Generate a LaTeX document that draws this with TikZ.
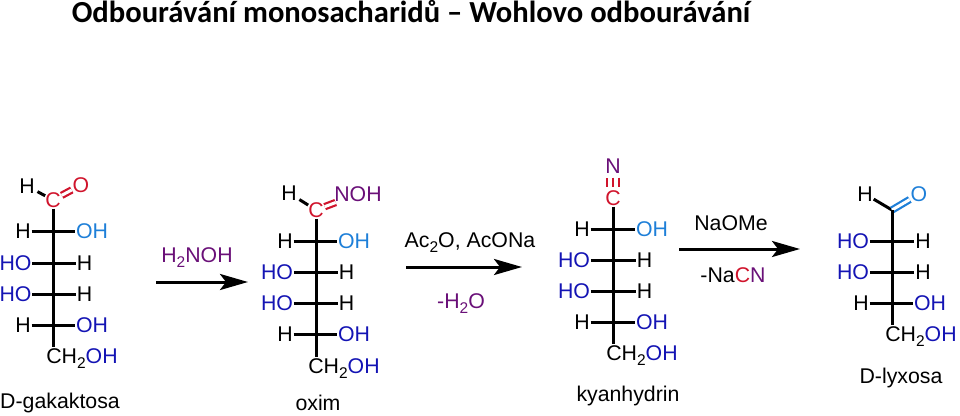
\documentclass[tikz,border=0pt]{standalone}
\usepackage{fontspec}
\setmainfont{Liberation Sans}
\newfontfamily\titlefont{Carlito}
\usetikzlibrary{arrows.meta}
\definecolor{oxblue}{HTML}{1414B4}
\definecolor{ltblue}{HTML}{1E7FD8}
\definecolor{oxred}{HTML}{D0142C}
\definecolor{oxpurple}{HTML}{6A1078}
\newcommand{\subtwo}{\raisebox{-4.5pt}{\fontsize{15.5}{15.5}\selectfont 2}}
\tikzset{
  >={Stealth[length=28pt,width=16pt,inset=6pt]},
  atom/.style={font=\fontsize{21.3}{25}\selectfont,inner sep=1pt,outer sep=0pt,
    text height=15pt,text depth=0pt},
  bond/.style={line width=3pt},
  hbond/.style={line width=3pt,shorten >=-1pt,shorten <=2pt},
  dbond/.style={line width=2.2pt,double,double distance=3pt},
  tbond/.style={line width=2.2pt,double,double distance=9.6pt,shorten >=3pt,shorten <=3pt},
  tmid/.style={line width=2.2pt,shorten >=3pt,shorten <=3pt},
  reaction/.style={line width=3pt,->}
}

\begin{document}
\begin{tikzpicture}[x=1pt,y=-1pt]
  \useasboundingbox (0,0) rectangle (960,415);
  \node[inner sep=0pt] (title) at (411,12)
    {\titlefont\bfseries\fontsize{30.6}{36}\selectfont Odbourávání monosacharidů – Wohlovo odbourávání};

  % D-gakaktosa
  \node[atom] (a0) at (27,186) {H};
  \node[atom,oxred] (aC) at (53,200) {C};
  \node[atom,oxred] (aO) at (81,185) {O};
  \node[atom] (a1l) at (23,231) {H};
  \node[atom,ltblue] (a1r) at (92,231) {OH};
  \node[atom,oxblue] (a2l) at (15.5,263) {HO};
  \node[atom] (a2r) at (84.5,263) {H};
  \node[atom,oxblue] (a3l) at (15.5,294) {HO};
  \node[atom] (a3r) at (84.5,294) {H};
  \node[atom] (a4l) at (23,325) {H};
  \node[atom,oxblue] (a4r) at (92,325) {OH};
  \node[atom] (a5) at (82,356) {CH\subtwo\textcolor{oxblue}{OH}};
  \coordinate (a5e) at (53,347);
  \node[atom] (aname) at (60,401) {D-gakaktosa};
  \draw[hbond] (a0) -- (aC);
  \draw[dbond,oxred] (aC) -- (aO);
  \draw[bond] (aC) -- (a5e);
  \draw[bond] (a1l) -- (a1r);
  \draw[bond] (a2l) -- (a2r);
  \draw[bond] (a3l) -- (a3r);
  \draw[bond] (a4l) -- (a4r);

  % arrow 1
  \coordinate (r1s) at (156,282);
  \coordinate (r1e) at (248,282);
  \draw[reaction] (r1s) -- (r1e);
  \node[atom,oxpurple] (r1t) at (197,255) {H\subtwo NOH};

  % oxim
  \node[atom] (b0) at (289,193) {H};
  \node[atom,oxred] (bC) at (316,210) {C};
  \node[atom,oxpurple] (bN) at (358,194) {NOH};
  \node[atom] (b1l) at (285,241) {H};
  \node[atom,ltblue] (b1r) at (354,241) {OH};
  \node[atom,oxblue] (b2l) at (277,272) {HO};
  \node[atom] (b2r) at (346.5,272) {H};
  \node[atom,oxblue] (b3l) at (277,303) {HO};
  \node[atom] (b3r) at (346.5,303) {H};
  \node[atom] (b4l) at (285,334) {H};
  \node[atom,oxblue] (b4r) at (354,334) {OH};
  \node[atom] (b5) at (344,366) {CH\subtwo\textcolor{oxblue}{OH}};
  \coordinate (b5e) at (316,357);
  \node[atom] (bname) at (318,403) {oxim};
  \draw[hbond] (b0) -- (bC);
  \draw[dbond,oxred] (bC) -- (bN);
  \draw[bond] (bC) -- (b5e);
  \draw[bond] (b1l) -- (b1r);
  \draw[bond] (b2l) -- (b2r);
  \draw[bond] (b3l) -- (b3r);
  \draw[bond] (b4l) -- (b4r);

  % arrow 2
  \coordinate (r2s) at (406,267);
  \coordinate (r2e) at (522,267);
  \draw[reaction] (r2s) -- (r2e);
  \node[atom] (r2t) at (470,240) {Ac\subtwo O, AcONa};
  \node[atom,oxpurple] (r2b) at (461,301) {-H\subtwo O};

  % kyanhydrin
  \node[atom,oxpurple] (cN) at (613,166) {N};
  \node[atom,oxred] (cC) at (613,198) {C};
  \node[atom] (c1l) at (582,229) {H};
  \node[atom,ltblue] (c1r) at (652,229) {OH};
  \node[atom,oxblue] (c2l) at (574,260) {HO};
  \node[atom] (c2r) at (644.5,260) {H};
  \node[atom,oxblue] (c3l) at (574,291) {HO};
  \node[atom] (c3r) at (644.5,291) {H};
  \node[atom] (c4l) at (582,322) {H};
  \node[atom,oxblue] (c4r) at (652,322) {OH};
  \node[atom] (c5) at (642,353) {CH\subtwo\textcolor{oxblue}{OH}};
  \coordinate (c5e) at (613,344);
  \node[atom] (cname) at (628,394) {kyanhydrin};
  \draw[tbond,oxred] (cN) -- (cC);
  \draw[tmid,oxred] (cN) -- (cC);
  \draw[bond] (cC) -- (c5e);
  \draw[bond] (c1l) -- (c1r);
  \draw[bond] (c2l) -- (c2r);
  \draw[bond] (c3l) -- (c3r);
  \draw[bond] (c4l) -- (c4r);

  % arrow 3
  \coordinate (r3s) at (679,249);
  \coordinate (r3e) at (800,249);
  \draw[reaction] (r3s) -- (r3e);
  \node[atom] (r3t) at (731,223) {NaOMe};
  \node[atom] (r3b) at (733,275) {-Na\textcolor{oxred}{C}\textcolor{oxpurple}{N}};

  % D-lyxosa
  \node[atom] (d0) at (865,194) {H};
  \coordinate (dC) at (892,210);
  \node[atom,ltblue] (dO) at (919,194) {O};
  \node[atom,oxblue] (d1l) at (853,241) {HO};
  \node[atom] (d1r) at (923,241) {H};
  \node[atom,oxblue] (d2l) at (853,272) {HO};
  \node[atom] (d2r) at (923,272) {H};
  \node[atom] (d3l) at (861,303) {H};
  \node[atom,oxblue] (d3r) at (930,303) {OH};
  \node[atom] (d4) at (921,334) {CH\subtwo\textcolor{oxblue}{OH}};
  \coordinate (d4e) at (892,325);
  \node[atom] (dname) at (901,376) {D-lyxosa};
  \draw[bond] (d0) -- (dC);
  \draw[dbond,ltblue] (dC) -- (dO);
  \draw[bond] (dC) -- (d4e);
  \draw[bond] (d1l) -- (d1r);
  \draw[bond] (d2l) -- (d2r);
  \draw[bond] (d3l) -- (d3r);
\end{tikzpicture}
\end{document}
